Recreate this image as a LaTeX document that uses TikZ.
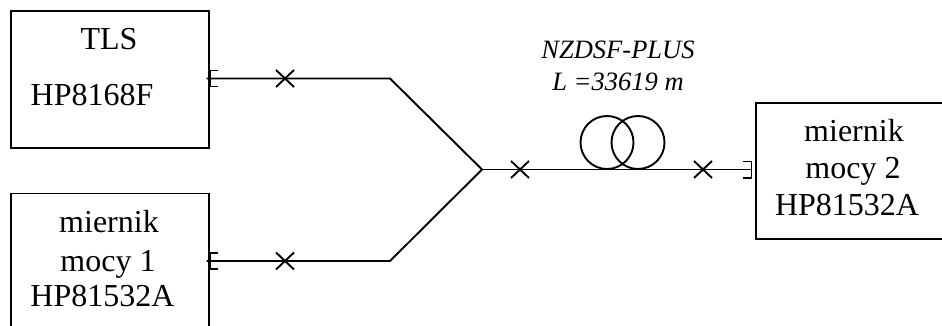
\documentclass[tikz,border=0pt]{standalone}
\usepackage{fontspec}
\setmainfont{Liberation Serif}
\begin{document}
\begin{tikzpicture}[x=1pt, y=-1pt, line width=1.9pt,
        every node/.style={font=\fontsize{32}{36}\selectfont, inner sep=0pt},
        devicebox/.style={draw, rectangle, anchor=north west},
        fibertext/.style={font=\fontsize{26.5}{32}\selectfont\itshape}]
    \useasboundingbox (0,0) rectangle (942,326);
    \clip (0,0) rectangle (942,326);
    % the three instruments
    \node[devicebox, minimum width=198pt, minimum height=137pt] (tls) at (10.3,10.3) {};
    \node[devicebox, minimum width=198pt, minimum height=145pt] (miernik-1) at (10.3,192.5) {};
    \node[devicebox, minimum width=200pt, minimum height=136pt] (miernik-2) at (755.3,101.7) {};
    \foreach \idx/\txt/\x/\y in {1/TLS/109/50, 2/HP8168F/92/106,
            3/miernik/109/232, 4/mocy 1/108/271, 5/HP81532A/102.5/306,
            6/miernik/854/142, 7/mocy 2/853/178, 8/HP81532A/847/215}
        \node[anchor=base] (label-\idx) at (\x,\y) {\txt};
    \node[fibertext, anchor=base] (fiber-name) at (618,59) {NZDSF-PLUS};
    \node[fibertext, anchor=base] (fiber-length) at (618,91) {L =33619 m};
    % coupler and fibre path
    \coordinate (fork) at (482,169.5);
    \coordinate (fork-a) at (390,78.5);
    \coordinate (fork-b) at (390,261);
    \coordinate (port-a) at (206.5,78.5);
    \coordinate (port-b) at (206.5,261);
    \coordinate (port-c) at (751.5,169.5);
    \draw (port-a) -- (fork-a) -- (fork);
    \draw (port-b) -- (fork-b) -- (fork);
    \draw (fork) -- (port-c);
    % connectors on the instruments
    \foreach \y in {78.5,261}
        \draw (218,\y-8) -- (210,\y-8) -- (210,\y+8) -- (218,\y+8);
    \draw (743,161.5) -- (751.5,161.5) -- (751.5,178) -- (743,178);
    % splices
    \foreach \x/\y in {285/78.5, 285/261, 520/169.5, 703/169.5}
        \draw (\x-9,\y-8.5) -- (\x+9,\y+8.5) (\x-9,\y+8.5) -- (\x+9,\y-8.5);
    % fibre spool
    \draw (607,142.5) circle (26.5);
    \draw (638,142.5) circle (26.5);
\end{tikzpicture}
\end{document}
